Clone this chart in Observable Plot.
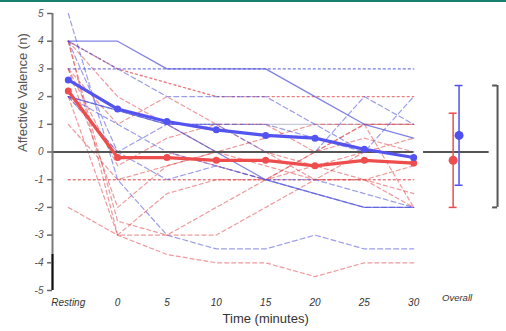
<!DOCTYPE html>
<html>
<head>
<meta charset="utf-8">
<script src="https://cdn.jsdelivr.net/npm/d3@7"></script>
<script src="https://cdn.jsdelivr.net/npm/@observablehq/plot@0.6"></script>
<style>
  html, body { margin: 0; padding: 0; background: #fff; }
  #wrap { position: relative; width: 506px; height: 331px; overflow: hidden; }
  #topbar { position: absolute; left: 0; top: 0; width: 506px; height: 2px; background: #17806e; }
  svg { display: block; }
</style>
</head>
<body>
<div id="wrap"><div id="topbar"></div><div id="chart"></div></div>
<script>
// Category tick labels (index 0..7) and overall
const timeLabels = ["Resting", "0", "5", "10", "15", "20", "25", "30"];
const overallLabel = "Overall";
const yTicks = [-5, -4, -3, -2, -1, 0, 1, 2, 3, 4, 5];

// Group means at each time point
const blueMean = [2.6, 1.55, 1.1, 0.8, 0.6, 0.5, 0.1, -0.2];
const redMean  = [2.2, -0.2, -0.2, -0.3, -0.3, -0.5, -0.3, -0.4];

// Overall mean and error bars
const overallX    = [7.8, 7.92];           // red, blue positions (category units)
const overallMean = [-0.3, 0.6];
const overallLo   = [-2.0, -1.2];
const overallHi   = [1.4, 2.4];
const overallCol  = ["#ee4d4d", "#5050ee"];

// Individual trajectories (blue group)
const blueSolid  = [[4, 4, 3, 3, 3, 2, 1, 0.5], [2, 1.5, 1, 0, -1, -1.5, -2, -2]];
const blueDotted = [[3, 3, 3, 3, 3, 3, 3, 3]];
const blueDashed = [
  [5, -1, -3, -3.5, -3.5, -3, -3.5, -3.5],
  [4, 0, -1, -0.5, -1, -1.5, -2, -2],
  [2, 1.5, 1, 1, 1, 0.5, 0, 0],
  [2, 0, 1, 1, 0, 0, 2, 1],
  [2, 1, 0, -0.5, -1, -1, -1.5, -2],
  [4, 3, 2, 2, 2, 1, 0, 2]
];
const greyFlat = [[null, null, 1, 1, 1, 1, 1, 1]];

// Individual trajectories (red group)
const redDotted = [[-1, -1, -1, -1, -1, -1, -1, -1], [4, 3, 2.5, 2, 2, 2, 2, 2]];
const redDashed = [
  [4, 2, 1, 0, -0.5, -1, 0, 0.5],
  [4, -3, -3, -2, -1, 0, 1, 1],
  [-2, -3, -3.7, -4, -4, -4.5, -4, -4],
  [1, -1, -0.5, 0, 0, -0.5, -1, -2],
  [3, -2, -0.5, 0, 0.5, 1, 1, 1],
  [2, -3, -1.5, -1, -1, 0, 0.5, 0],
  [3, -0.5, 0.5, 1, 0, -1, -1, -1.5],
  [4, -2.5, -3, -3, -2, -1, -1, -0.5],
  [2, 0, 0, -0.5, -1, -0.5, 0, 0],
  [3, 1, 2, 1, 1, 0, 1, -2]
];

function long(sets, prefix) {
  const out = [];
  sets.forEach((vals, k) => vals.forEach((v, i) => { if (v != null) out.push({id: prefix + k, x: i, y: v}); }));
  return out;
}
const meanRows = (vals) => vals.map((v, i) => ({x: i, y: v}));
const idx = overallX.map((x, i) => i);

const blueC = "#4b4fd8", redC = "#e0474a";
const axisX0 = -0.32;

const chart = Plot.plot({
  width: 506,
  height: 331,
  marginTop: 13,
  marginBottom: 41,
  marginLeft: 52,
  marginRight: 6,
  x: {type: "linear", domain: [axisX0, 8.76], axis: null},
  y: {type: "linear", domain: [-5, 5], axis: null},
  style: {fontFamily: "Liberation Sans, Arial, sans-serif", background: "transparent"},
  marks: [
    // individual lines
    Plot.line(long(greyFlat, "g"), {x: "x", y: "y", z: "id", stroke: "#c8c8d8", strokeWidth: 1.2}),
    Plot.line(long(redDashed, "rd"), {x: "x", y: "y", z: "id", stroke: redC, strokeWidth: 1.2, strokeOpacity: 0.55, strokeDasharray: "4,3"}),
    Plot.line(long(redDotted, "rt"), {x: "x", y: "y", z: "id", stroke: redC, strokeWidth: 1.4, strokeOpacity: 0.7, strokeDasharray: "2,3"}),
    Plot.line(long(blueDashed, "bd"), {x: "x", y: "y", z: "id", stroke: blueC, strokeWidth: 1.2, strokeOpacity: 0.55, strokeDasharray: "5,3"}),
    Plot.line(long(blueDotted, "bt"), {x: "x", y: "y", z: "id", stroke: blueC, strokeWidth: 1.4, strokeOpacity: 0.75, strokeDasharray: "2,3"}),
    Plot.line(long(blueSolid, "bs"), {x: "x", y: "y", z: "id", stroke: blueC, strokeWidth: 1.3, strokeOpacity: 0.7}),
    // zero reference lines
    Plot.ruleY([0], {x1: axisX0, x2: 7, stroke: "#555", strokeWidth: 2}),
    Plot.ruleY([0], {x1: 7.2, x2: 8.53, stroke: "#555", strokeWidth: 2}),
    // y axis line and ticks
    Plot.ruleX([axisX0], {y1: -5, y2: 5, stroke: "#7a7a7a", strokeWidth: 2}),
    Plot.ruleX([axisX0], {y1: -5, y2: -3.7, stroke: "#111", strokeWidth: 2}),
    Plot.ruleY(yTicks, {y: d => d, x1: axisX0 - 0.1, x2: axisX0, stroke: "#666", strokeWidth: 1.5}),
    // means
    Plot.line(meanRows(redMean), {x: "x", y: "y", stroke: "#ee4d4d", strokeWidth: 3.2}),
    Plot.dot(meanRows(redMean), {x: "x", y: "y", r: 3.5, fill: "#ee4d4d"}),
    Plot.line(meanRows(blueMean), {x: "x", y: "y", stroke: "#5353f0", strokeWidth: 3.2}),
    Plot.dot(meanRows(blueMean), {x: "x", y: "y", r: 3.5, fill: "#5353f0"}),
    // overall error bars
    Plot.ruleX(idx, {x: i => overallX[i], y1: i => overallLo[i], y2: i => overallHi[i], stroke: i => overallCol[i], strokeWidth: 1.5}),
    Plot.ruleY(idx, {y: i => overallLo[i], x1: i => overallX[i] - 0.08, x2: i => overallX[i] + 0.08, stroke: i => overallCol[i], strokeWidth: 1.5}),
    Plot.ruleY(idx, {y: i => overallHi[i], x1: i => overallX[i] - 0.08, x2: i => overallX[i] + 0.08, stroke: i => overallCol[i], strokeWidth: 1.5}),
    Plot.dot(idx, {x: i => overallX[i], y: i => overallMean[i], r: 4.5, fill: i => overallCol[i]}),
    // bracket
    Plot.ruleX([8.7], {y1: -2, y2: 2.4, stroke: "#555", strokeWidth: 2}),
    Plot.ruleY([-2, 2.4], {y: d => d, x1: 8.6, x2: 8.7, stroke: "#555", strokeWidth: 2}),
    // axis labels
    Plot.text(yTicks, {y: d => d, x: axisX0, dx: -9, text: d => String(d), textAnchor: "end", fontStyle: "italic", fontSize: 10, fill: "#555"}),
    Plot.text(timeLabels, {x: (d, i) => i, frameAnchor: "bottom", dy: 15, text: d => d, fontStyle: "italic", fontSize: 10, fill: "#333"}),
    Plot.text([overallLabel], {x: 7.88, frameAnchor: "bottom", dy: 10, text: d => d, fontStyle: "italic", fontSize: 9.5, fill: "#333"}),
    Plot.text(["Time (minutes)"], {x: 4, frameAnchor: "bottom", dy: 32, text: d => d, fontSize: 13, fill: "#333"}),
    Plot.text(["Affective Valence (n)"], {y: 0, frameAnchor: "left", dx: -30, rotate: -90, text: d => d, fontSize: 13, fill: "#555"})
  ]
});
document.getElementById("chart").appendChild(chart);
</script>
</body>
</html>
